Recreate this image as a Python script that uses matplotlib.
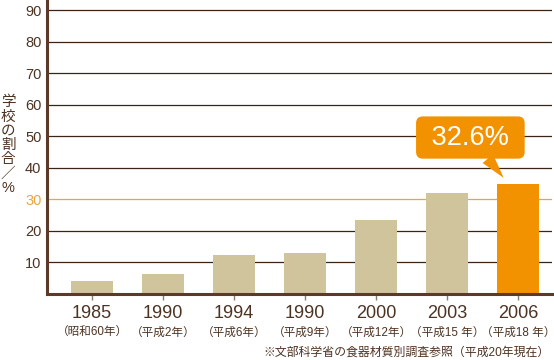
import matplotlib
matplotlib.use('Agg')
import matplotlib.pyplot as plt

# フォント設定（数字は Liberation Sans、日本語は Noto Sans CJK JP）
plt.rcParams['font.family'] = ['Liberation Sans', 'Noto Sans CJK JP', 'DejaVu Sans']

# データ
years = ['1985', '1990', '1994', '1990', '2000', '2003', '2006']
eras = ['（昭和60年）', '（平成2年）', '（平成6年）', '（平成9年）',
        '（平成12年）', '（平成15 年）', '（平成18 年）']
values = [4.1, 6.3, 12.3, 13.0, 23.4, 32.0, 34.8]
callout_text = '32.6%'
yticks = [10, 20, 30, 40, 50, 60, 70, 80, 90]
ylabel_chars = ['学', '校', 'の', '割', '合', '／', '%']
note = '※文部科学省の食器材質別調査参照（平成20年現在）'

# 色
brown = '#4d3322'
axis_brown = '#5b3a29'
tan = '#cfc49b'
orange = '#f39200'
line_orange = '#eaa444'

fig = plt.figure(figsize=(5.54, 3.6), dpi=100)
ax = fig.add_axes([47 / 554, 66 / 360, 505 / 554, 294 / 360])

x = list(range(len(values)))
colors = [tan] * (len(values) - 1) + [orange]
ax.bar(x, values, width=0.58, color=colors, zorder=3)

# 目盛り線（30 はオレンジ）
for t in yticks:
    c = line_orange if t == 30 else '#3c2415'
    ax.axhline(t, color=c, linewidth=0.9, zorder=1)

ax.set_xlim(-0.634, 6.48)
ax.set_ylim(0, 93.2)

ax.set_yticks(yticks)
ax.set_yticklabels([str(t) for t in yticks], fontsize=10.5, color=brown)
for lab, t in zip(ax.get_yticklabels(), yticks):
    if t == 30:
        lab.set_color(line_orange)
ax.tick_params(axis='y', length=0, pad=4)

ax.set_xticks(x)
ax.set_xticklabels(years, fontsize=13, color=brown)
ax.tick_params(axis='x', length=4, width=1, color='#8c7b6b', pad=4)

# 年号（2行目）
for i, e in enumerate(eras):
    ax.text(i, -0.133, e, transform=ax.get_xaxis_transform(), ha='center',
            va='center', fontsize=8.4, color=brown)

for s in ['top', 'right']:
    ax.spines[s].set_visible(False)
for s in ['left', 'bottom']:
    ax.spines[s].set_color(axis_brown)
    ax.spines[s].set_linewidth(2.2)
    ax.spines[s].set_zorder(4)

# 縦書きのラベル
fig.text(8 / 554, 1 - 145 / 360, '\n'.join(ylabel_chars), ha='center', va='center',
         fontsize=10.5, color=brown, linespacing=1.02)

# 吹き出し
last = len(values) - 1
ax.annotate(' ' + callout_text + ' ', xy=(last - 0.2, values[last] + 2),
            xytext=(last - 0.67, values[last] + 14.8),
            ha='center', va='center', fontsize=19.5, color='white', zorder=6,
            bbox=dict(boxstyle='round,pad=0.3,rounding_size=0.25', fc=orange, ec='none'),
            arrowprops=dict(arrowstyle='wedge,tail_width=0.5,shrink_factor=0.5',
                            fc=orange, ec='none', shrinkA=0, shrinkB=0))

fig.text(550 / 554, 1 - 352.5 / 360, note, ha='right', va='center',
         fontsize=8.6, color=brown)

fig.savefig('out.png', dpi=100)
